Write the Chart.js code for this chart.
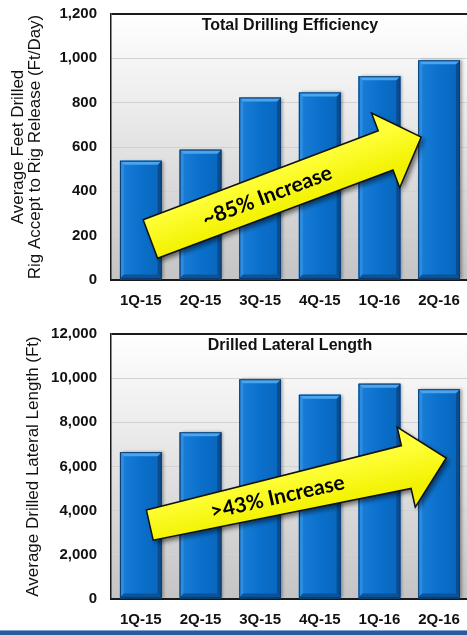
<!DOCTYPE html>
<html>
<head>
<meta charset="utf-8">
<title>Drilling Efficiency</title>
<script src="https://cdn.jsdelivr.net/npm/chart.js@4.4.1/dist/chart.umd.min.js"></script>
<style>
  html, body { margin: 0; padding: 0; background: #fff; width: 467px; height: 635px; overflow: hidden; }
  .panel { position: absolute; left: 0; width: 472px; }
  #topPanel { top: 0; height: 312px; }
  #bottomPanel { top: 312px; height: 318px; }
  .footer-bar { position: absolute; left: 0; top: 630px; width: 467px; height: 5px; background: #2a5b98; border-top: 1px solid #7ea3cf; }
</style>
</head>
<body>
<div class="panel" id="topPanel"><canvas id="efficiencyChart"></canvas></div>
<div class="panel" id="bottomPanel"><canvas id="lateralChart"></canvas></div>
<div class="footer-bar"></div>

<script>
// =============================================
// Data
// =============================================
const quarters = ['1Q-15', '2Q-15', '3Q-15', '4Q-15', '1Q-16', '2Q-16'];
const drillingEfficiency = [538, 588, 823, 846, 919, 991];
const lateralLength = [6650, 7550, 9950, 9250, 9750, 9500];
const efficiencyTicks = [0, 200, 400, 600, 800, 1000, 1200];
const lateralTicks = [0, 2000, 4000, 6000, 8000, 10000, 12000];

Chart.defaults.font.family = "'Liberation Sans', Arial, sans-serif";
Chart.defaults.color = '#111';

// =============================================
// Plugins
// =============================================

// gray gradient behind the plot area
const plotBackground = {
  id: 'plotBackground',
  beforeDraw(chart) {
    const { ctx, chartArea: a } = chart;
    const g = ctx.createLinearGradient(0, a.top, 0, a.bottom);
    g.addColorStop(0, '#ffffff');
    g.addColorStop(0.35, '#ececec');
    g.addColorStop(1, '#c4c4c4');
    ctx.save();
    ctx.fillStyle = g;
    ctx.fillRect(a.left, a.top, a.right - a.left, a.bottom - a.top);
    ctx.restore();
  }
};

// 3D bevel look on the bars
const barBevel = {
  id: 'barBevel',
  afterDatasetsDraw(chart) {
    const { ctx } = chart;
    chart.getDatasetMeta(0).data.forEach(bar => {
      const { x, y, width, base } = bar.getProps(['x', 'y', 'width', 'base'], true);
      const l = x - width / 2, r = x + width / 2, b = 4, bot = base - 1;
      const poly = (pts, color) => {
        ctx.beginPath();
        pts.forEach((p, i) => i ? ctx.lineTo(p[0], p[1]) : ctx.moveTo(p[0], p[1]));
        ctx.closePath();
        ctx.fillStyle = color;
        ctx.fill();
      };
      ctx.save();
      const g = ctx.createLinearGradient(l, 0, r, 0);
      g.addColorStop(0, '#1b7fd8');
      g.addColorStop(0.5, '#0a70cc');
      g.addColorStop(1, '#0965ba');
      ctx.shadowColor = 'rgba(0,0,0,0.35)';
      ctx.shadowBlur = 3;
      ctx.shadowOffsetX = 2;
      ctx.fillStyle = g;
      ctx.fillRect(l, y, width, bot - y);
      ctx.shadowColor = 'transparent';
      poly([[l, y], [l + b, y + b], [l + b, bot - b], [l, bot]], '#2d8ce0');
      poly([[r, y], [r - b, y + b], [r - b, bot - b], [r, bot]], '#0a4c90');
      poly([[l, bot], [r, bot], [r - b, bot - b], [l + b, bot - b]], '#0a5299');
      poly([[l, y], [r, y], [r - b, y + b], [l + b, y + b]], '#4aa5ee');
      ctx.strokeStyle = '#0a3c72';
      ctx.lineWidth = 1;
      ctx.strokeRect(l + 0.5, y + 0.5, width - 1, bot - y - 0.5);
      ctx.restore();
    });
  }
};

// yellow trend arrow with rotated label, anchored in data units
const trendArrow = {
  id: 'trendArrow',
  afterDatasetsDraw(chart, args, opts) {
    if (!opts.from) return;
    const { ctx, scales: { x, y } } = chart;
    const p0 = { x: x.getPixelForValue(opts.from[0]), y: y.getPixelForValue(opts.from[1]) };
    const p1 = { x: x.getPixelForValue(opts.to[0]), y: y.getPixelForValue(opts.to[1]) };
    const dx = p1.x - p0.x, dy = p1.y - p0.y, len = Math.hypot(dx, dy);
    const u = { x: dx / len, y: dy / len };
    const n = { x: -u.y, y: u.x };
    const neck = { x: p1.x - u.x * opts.headLength, y: p1.y - u.y * opts.headLength };
    const pt = (c, k) => [c.x + n.x * k, c.y + n.y * k];
    const pts = [
      pt(p0, -opts.tailWidth), pt(neck, -opts.neckWidth), pt(neck, -opts.headWidth),
      [p1.x, p1.y],
      pt(neck, opts.headWidth), pt(neck, opts.neckWidth), pt(p0, opts.tailWidth)
    ];

    ctx.save();
    ctx.beginPath();
    pts.forEach((p, i) => i ? ctx.lineTo(p[0], p[1]) : ctx.moveTo(p[0], p[1]));
    ctx.closePath();
    const g = ctx.createLinearGradient(p0.x - n.x * 20, p0.y - n.y * 20, p0.x + n.x * 20, p0.y + n.y * 20);
    g.addColorStop(0, '#ffff3a');
    g.addColorStop(1, '#f2f200');
    ctx.shadowColor = 'rgba(0,0,0,0.55)';
    ctx.shadowBlur = 5;
    ctx.shadowOffsetX = 3;
    ctx.shadowOffsetY = 3;
    ctx.fillStyle = g;
    ctx.fill();
    ctx.shadowColor = 'transparent';
    ctx.lineWidth = 1.5;
    ctx.strokeStyle = '#111';
    ctx.stroke();

    ctx.translate(p0.x + dx * opts.labelAt, p0.y + dy * opts.labelAt);
    ctx.rotate(Math.atan2(dy, dx));
    ctx.font = "bold 21px Lato, 'Liberation Sans', sans-serif";
    ctx.textAlign = 'center';
    ctx.textBaseline = 'middle';
    ctx.fillStyle = '#000';
    ctx.fillText(opts.label, 0, 1);
    ctx.restore();
  }
};

// title written inside the top of the plot area
const panelTitle = {
  id: 'panelTitle',
  afterDatasetsDraw(chart, args, opts) {
    const { ctx, chartArea: a } = chart;
    ctx.save();
    ctx.font = "bold 16px 'Liberation Sans', Arial, sans-serif";
    ctx.fillStyle = '#111';
    ctx.textAlign = 'center';
    ctx.textBaseline = 'middle';
    ctx.fillText(opts.text, (a.left + a.right) / 2, a.top + 12);
    ctx.restore();
  }
};

// =============================================
// Chart builder
// =============================================
function buildChart(canvasId, cfg) {
  const maxTick = cfg.ticks[cfg.ticks.length - 1];
  return new Chart(document.getElementById(canvasId), {
    type: 'bar',
    data: {
      labels: quarters,
      datasets: [{
        data: cfg.values,
        backgroundColor: '#0a70cc',
        borderWidth: 0,
        barPercentage: 0.7,
        categoryPercentage: 1.0
      }]
    },
    plugins: [plotBackground, barBevel, trendArrow, panelTitle],
    options: {
      responsive: true,
      maintainAspectRatio: false,
      animation: false,
      layout: { padding: { top: cfg.padTop, right: 1, left: 0, bottom: 0 } },
      plugins: {
        legend: { display: false },
        tooltip: { enabled: false },
        panelTitle: { text: cfg.title },
        trendArrow: cfg.arrow
      },
      scales: {
        x: {
          grid: { display: false, drawTicks: false },
          border: { display: true, color: '#1a1a1a', width: 2 },
          ticks: { font: { size: 15, weight: 'bold' }, padding: 12, color: '#111' },
          afterFit: s => { s.height = cfg.xHeight; }
        },
        y: {
          min: 0,
          max: maxTick,
          afterBuildTicks: axis => { axis.ticks = cfg.ticks.map(v => ({ value: v })); },
          grid: {
            drawTicks: true,
            tickLength: 14,
            tickColor: 'transparent',
            color: c => c.tick && c.tick.value === maxTick ? '#1a1a1a' : '#d2d2d2',
            lineWidth: c => c.tick && c.tick.value === maxTick ? 2 : 1
          },
          border: { display: true, color: '#1a1a1a', width: 1.5 },
          ticks: {
            font: { size: 15, weight: 'bold' },
            padding: 0,
            color: '#111',
            callback: v => v.toLocaleString('en-US')
          },
          title: {
            display: true,
            text: cfg.yTitle,
            font: { size: 17, lineHeight: 1.0 },
            color: '#111',
            padding: { top: cfg.titlePad, bottom: 0 }
          },
          afterFit: s => { s.width = 111; }
        }
      }
    }
  });
}

buildChart('efficiencyChart', {
  values: drillingEfficiency,
  ticks: efficiencyTicks,
  title: 'Total Drilling Efficiency',
  yTitle: ['Average Feet Drilled', 'Rig Accept to Rig Release (Ft/Day)'],
  titlePad: 10,
  padTop: 14,
  xHeight: 32,
  arrow: {
    from: [0.16, 185], to: [4.70, 645],
    tailWidth: 20.5, neckWidth: 21, headWidth: 40, headLength: 38,
    labelAt: 0.43, label: '~85% Increase'
  }
});

buildChart('lateralChart', {
  values: lateralLength,
  ticks: lateralTicks,
  title: 'Drilled Lateral Length',
  yTitle: 'Average Drilled Lateral Length (Ft)',
  titlePad: 25,
  padTop: 22,
  xHeight: 31,
  arrow: {
    from: [0.15, 3350], to: [5.12, 6385],
    tailWidth: 15.5, neckWidth: 22, headWidth: 41, headLength: 41,
    labelAt: 0.43, label: '>43% Increase'
  }
});
</script>
</body>
</html>
